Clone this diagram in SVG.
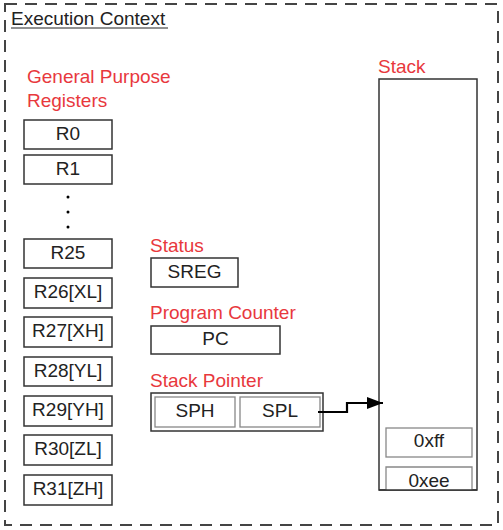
<svg xmlns="http://www.w3.org/2000/svg" width="503" height="530" viewBox="0 0 503 530">
<style>
text{font-family:"Liberation Sans",Arial,sans-serif;font-size:19px}
.lbl{fill:#e8383d}
.t{fill:#222;text-anchor:middle}
.box{fill:#fff;stroke:#333;stroke-width:1.5}
.gbox{fill:#fff;stroke:#888;stroke-width:1.3}
</style>
<defs>
<marker id="ah" markerWidth="16" markerHeight="12" refX="16" refY="6" orient="auto" markerUnits="userSpaceOnUse">
<path d="M0,0 L16,6 L0,12 Z" fill="#000"/>
</marker>
</defs>
<rect width="503" height="530" fill="#fff"/>
<g id="context">
<rect x="5" y="4" width="493" height="521" fill="none" stroke="#444" stroke-width="2" stroke-dasharray="12,8"/>
<text x="11" y="25" fill="#222">Execution Context</text>
<line x1="11" y1="28" x2="168" y2="28" stroke="#222" stroke-width="1"/>
</g>
<g id="gpr">
<text class="lbl" x="27" y="83">General Purpose</text>
<text class="lbl" x="27" y="107">Registers</text>
</g>
<g id="r0"><rect class="box" x="24" y="120" width="88" height="29"/><text class="t" x="68" y="140">R0</text></g>
<g id="r1"><rect class="box" x="24" y="155" width="88" height="29"/><text class="t" x="68" y="175">R1</text></g>
<g id="dots" fill="#000"><circle cx="68" cy="197" r="1.5"/><circle cx="68" cy="212" r="1.5"/><circle cx="68" cy="227" r="1.5"/></g>
<g id="r25"><rect class="box" x="24" y="239" width="88" height="29"/><text class="t" x="68" y="259">R25</text></g>
<g id="r26"><rect class="box" x="24" y="278" width="88" height="30"/><text class="t" x="68" y="298">R26[XL]</text></g>
<g id="r27"><rect class="box" x="24" y="317" width="88" height="30"/><text class="t" x="68" y="337">R27[XH]</text></g>
<g id="r28"><rect class="box" x="24" y="357" width="88" height="29"/><text class="t" x="68" y="377">R28[YL]</text></g>
<g id="r29"><rect class="box" x="24" y="396" width="88" height="30"/><text class="t" x="68" y="416">R29[YH]</text></g>
<g id="r30"><rect class="box" x="24" y="435" width="88" height="30"/><text class="t" x="68" y="455">R30[ZL]</text></g>
<g id="r31"><rect class="box" x="24" y="475" width="88" height="30"/><text class="t" x="68" y="495">R31[ZH]</text></g>
<g id="status">
<text class="lbl" x="150" y="252">Status</text>
<rect class="box" x="151" y="258" width="87" height="29"/><text class="t" x="194.5" y="278">SREG</text>
</g>
<g id="pc">
<text class="lbl" x="150" y="319">Program Counter</text>
<rect class="box" x="151" y="326" width="129" height="28"/><text class="t" x="215.5" y="345">PC</text>
</g>
<g id="sp">
<text class="lbl" x="150" y="387">Stack Pointer</text>
<rect class="box" x="151" y="393" width="172" height="38"/>
<rect class="gbox" x="155" y="397" width="80" height="30"/><text class="t" x="195" y="417">SPH</text>
<rect class="gbox" x="240" y="397" width="80" height="30"/><text class="t" x="280" y="417">SPL</text>
</g>
<g id="stack">
<text class="lbl" x="378" y="73">Stack</text>
<rect class="box" x="379" y="79" width="98" height="411"/>
<rect class="gbox" x="386" y="428" width="86" height="29"/><text class="t" x="429" y="447">0xff</text>
<path class="gbox" d="M386,490 V467 H472 V490" fill="none"/><text class="t" x="429" y="487">0xee</text>
<line x1="379" y1="490" x2="477" y2="490" stroke="#333" stroke-width="1.5"/>
</g>
<g id="connectors">
<path d="M318,412 H347 V403 H383" fill="none" stroke="#000" stroke-width="2.2" marker-end="url(#ah)"/>
</g>
</svg>
